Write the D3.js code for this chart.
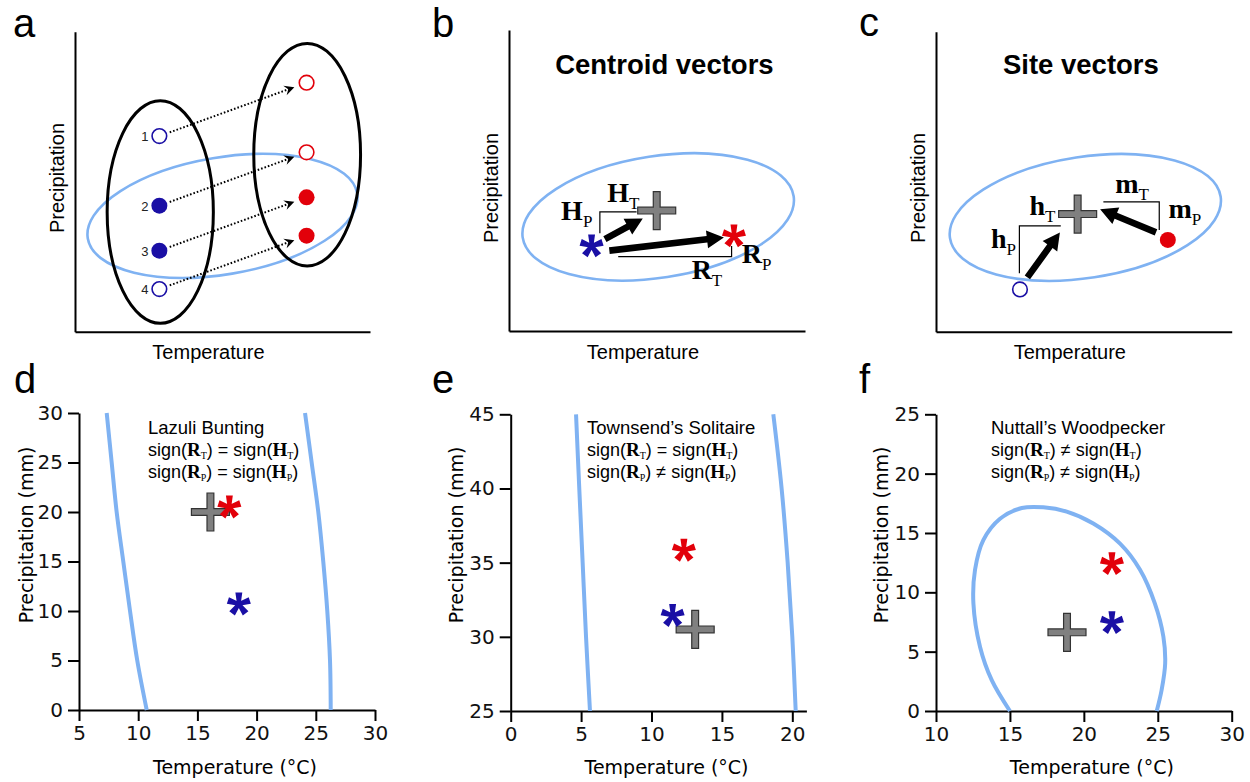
<!DOCTYPE html>
<html>
<head>
<meta charset="utf-8">
<title>Centroid and site vectors</title>
<script src="https://d3js.org/d3.v7.min.js"></script>
<style>
  body { margin: 0; background: #fff; }
</style>
</head>
<body>
<script>
// ---------- data (concept panels use arbitrary 0-100 units) ----------
// panel a: four sites, historical (blue) and modern (red)
const aSiteIds = ["1", "2", "3", "4"];
const aHistX = [28.6, 28.6, 28.6, 28.6];
const aHistY = [65.2, 42.0, 27.0, 14.2];
const aModX = [78.5, 78.5, 78.5, 78.5];
const aModY = [83.0, 59.8, 44.8, 32.0];
const aHistOccupied = [false, true, true, false];
const aModOccupied = [false, false, true, true];
// site groups [cx, cy, rx, ry]
const aHistGroup = [28.9, 39.9, 18.0, 37.1];
const aModGroup = [78.7, 59.0, 18.1, 37.1];
// climatic niche ellipses [cx, cy, rx, ry, tilt]
const aNiche = [50.0, 38.6, 46.3, 19.5, -9.5];
const bNiche = [50.4, 37.9, 46.3, 20.2, -8.7];
const cNiche = [50.5, 38.1, 46.3, 20.2, -8.7];

// panel b: centroid vectors
const bHist = [27.9, 28.6];
const bCentroid = [49.9, 40.0];
const bMod = [76.0, 31.9];
const bVectors = [[[32.4, 30.5], [45.2, 37.4]], [[33.9, 26.7], [72.6, 31.1]]];
const bBrackets = [[[30.7, 32.5], [30.7, 39.6], [43.1, 39.6]], [[36.9, 24.7], [75.2, 24.7], [75.2, 28.2]]];
const bLabels = [["H", "P", 17.6, 36.9], ["H", "T", 33.2, 43.0], ["R", "P", 78.6, 22.5], ["R", "T", 61.7, 17.2]];

// panel c: site vectors
const cHistSite = [28.4, 14.1];
const cCentroid = [47.9, 39.2];
const cModSite = [78.4, 30.6];
const cVectors = [[[30.9, 18.1], [41.9, 33.1]], [[74.4, 33.1], [55.5, 40.8]]];
const cBrackets = [[[28.2, 19.5], [28.2, 35.3], [42.2, 35.3]], [[56.6, 43.3], [75.5, 43.3], [75.5, 33.9]]];
const cLabels = [["h", "P", 18.6, 27.8], ["h", "T", 31.6, 38.9], ["m", "T", 60.6, 46.3], ["m", "P", 78.6, 37.8]];

// panel d: Lazuli Bunting  [temperature °C, precipitation mm]
const dLeftEdge = [[7.34, 30], [7.76, 25], [8.18, 20], [8.74, 15], [9.31, 10], [9.92, 5], [10.72, 0]];
const dRightEdge = [[24.09, 30], [24.65, 25], [25.21, 20], [25.63, 15], [25.97, 10], [26.2, 5], [26.26, 0]];
const dCentroid = [16.1, 20.0];
const dHist = [18.5, 10.8];
const dMod = [17.7, 20.6];
const dXTicks = [5, 10, 15, 20, 25, 30];
const dYTicks = [0, 5, 10, 15, 20, 25, 30];

// panel e: Townsend's Solitaire
const eLeftEdge = [[4.64, 45], [4.87, 40], [5.11, 35], [5.35, 30], [5.63, 25]];
const eRightEdge = [[18.65, 45], [19.24, 40], [19.67, 35], [20.0, 30], [20.24, 25]];
const eCentroid = [13.1, 30.5];
const eHist = [11.5, 31.5];
const eMod = [12.3, 35.9];
const eXTicks = [0, 5, 10, 15, 20];
const eYTicks = [25, 30, 35, 40, 45];

// panel f: Nuttall's Woodpecker
const fEdge = [[15.0, 0], [13.77, 2.6], [12.98, 5.4], [12.53, 9.07], [12.64, 11.9], [13.2, 14.4],
  [14.33, 16.2], [15.8, 17.1], [17.26, 17.16], [18.84, 16.8], [20.64, 15.8], [22.45, 14.1],
  [23.8, 11.9], [24.8, 9.07], [25.38, 6.26], [25.5, 4.0], [25.26, 1.77], [24.93, 0]];
const fCentroid = [18.86, 6.63];
const fHist = [21.9, 7.53];
const fMod = [21.9, 12.5];
const fXTicks = [10, 15, 20, 25, 30];
const fYTicks = [0, 5, 10, 15, 20, 25];

const species = ["Lazuli Bunting", "Townsend\u2019s Solitaire", "Nuttall\u2019s Woodpecker"];
const signT = ["=", "=", "\u2260"];
const signP = ["=", "\u2260", "\u2260"];

// ---------- styles ----------
const BLUE = "#1a0fa5", RED = "#e2000a", NICHE = "#7fb2f2", GREY = "#808080";
const SANS = "Liberation Sans, Arial, sans-serif";
const SERIF = "Liberation Serif, Times New Roman, serif";
const AXISFONT = "DejaVu Sans, sans-serif";

const svg = d3.select("body").append("svg")
  .attr("width", 1250)
  .attr("height", 782);

// custom symbols: 5-armed asterisk and a thin plus
const asterisk5 = {
  draw(ctx, size) {
    const r = Math.sqrt(size) / 2, w0 = r * 0.16, w1 = r * 0.3;
    for (let k = 0; k < 5; k++) {
      const a = -Math.PI / 2 + k * 2 * Math.PI / 5;
      const ux = Math.cos(a), uy = Math.sin(a), nx = -uy, ny = ux;
      ctx.moveTo(nx * w0, ny * w0);
      ctx.lineTo(ux * r + nx * w1, uy * r + ny * w1);
      ctx.lineTo(ux * r - nx * w1, uy * r - ny * w1);
      ctx.lineTo(-nx * w0, -ny * w0);
      ctx.closePath();
    }
  }
};
const plus = {
  draw(ctx, size) {
    const L = Math.sqrt(size) / 2, t = L * 0.18;
    ctx.moveTo(-t, -L); ctx.lineTo(t, -L); ctx.lineTo(t, -t); ctx.lineTo(L, -t);
    ctx.lineTo(L, t); ctx.lineTo(t, t); ctx.lineTo(t, L); ctx.lineTo(-t, L);
    ctx.lineTo(-t, t); ctx.lineTo(-L, t); ctx.lineTo(-L, -t); ctx.lineTo(-t, -t);
    ctx.closePath();
  }
};

function drawCross(x, y, p) {
  svg.append("path")
    .attr("transform", `translate(${x(p[0])},${y(p[1])})`)
    .attr("d", d3.symbol().type(plus).size(38 * 38)())
    .attr("fill", GREY).attr("stroke", "#333").attr("stroke-width", 1.2);
}
function drawStar(x, y, p, color) {
  svg.append("path")
    .attr("transform", `translate(${x(p[0])},${y(p[1]) + 1})`)
    .attr("d", d3.symbol().type(asterisk5).size(23 * 23)())
    .attr("fill", color);
}
function drawSite(x, y, p, color, filled) {
  svg.append("circle")
    .attr("cx", x(p[0])).attr("cy", y(p[1]))
    .attr("r", filled ? 8 : 7.3)
    .attr("fill", filled ? color : "#fff")
    .attr("stroke", color).attr("stroke-width", filled ? 0 : 1.6);
}

function panelLetter(txt, px, py) {
  svg.append("text").attr("x", px).attr("y", py).text(txt)
    .attr("font-family", SANS).attr("font-size", 40);
}

function ellipse(x, y, e, color, width) {
  const cx = x(e[0]), cy = y(e[1]);
  const rx = x(e[0] + e[2]) - cx, ry = cy - y(e[1] + e[3]);
  svg.append("ellipse")
    .attr("cx", cx).attr("cy", cy).attr("rx", rx).attr("ry", ry)
    .attr("transform", `rotate(${e[4] || 0},${cx},${cy})`)
    .attr("fill", "none").attr("stroke", color).attr("stroke-width", width);
}

function blockArrow(x, y, v) {
  const p0 = [x(v[0][0]), y(v[0][1])], p1 = [x(v[1][0]), y(v[1][1])];
  const dx = p1[0] - p0[0], dy = p1[1] - p0[1], L = Math.hypot(dx, dy);
  const ux = dx / L, uy = dy / L, nx = -uy, ny = ux;
  const hl = 17, hw = 9, sw = 3.3;
  const b = [p1[0] - ux * hl, p1[1] - uy * hl];
  const pts = [
    [p0[0] + nx * sw, p0[1] + ny * sw], [b[0] + nx * sw, b[1] + ny * sw],
    [b[0] + nx * hw, b[1] + ny * hw], p1,
    [b[0] - nx * hw, b[1] - ny * hw], [b[0] - nx * sw, b[1] - ny * sw],
    [p0[0] - nx * sw, p0[1] - ny * sw]
  ];
  svg.append("path").attr("d", d3.line()(pts) + "Z").attr("fill", "#000");
}

function bracket(x, y, pts) {
  svg.append("path")
    .attr("d", d3.line().x(d => x(d[0])).y(d => y(d[1]))(pts))
    .attr("fill", "none").attr("stroke", "#000").attr("stroke-width", 1.2);
}

function vecLabel(x, y, l) {
  const t = svg.append("text").attr("x", x(l[2])).attr("y", y(l[3]))
    .attr("font-family", SERIF);
  t.append("tspan").text(l[0]).attr("font-weight", "bold").attr("font-size", 28);
  t.append("tspan").text(l[1]).attr("font-size", 17).attr("dy", 7);
}

function conceptAxes(x, y, labelY) {
  const gy = svg.append("g").attr("transform", `translate(${x.range()[0]},0)`)
    .call(d3.axisLeft(y).tickValues([]).tickSizeOuter(0));
  const gx = svg.append("g").attr("transform", `translate(0,${y.range()[0]})`)
    .call(d3.axisBottom(x).tickValues([]).tickSizeOuter(0));
  [gx, gy].forEach(g => g.select(".domain").attr("stroke-width", 2));
  svg.append("text").attr("x", d3.mean(x.range()) - 14).attr("y", 359)
    .attr("text-anchor", "middle").attr("font-family", SANS).attr("font-size", 20)
    .text("Temperature");
  svg.append("text")
    .attr("transform", `translate(${x.range()[0] - 11},${labelY}) rotate(-90)`)
    .attr("text-anchor", "middle").attr("font-family", SANS).attr("font-size", 20)
    .text("Precipitation");
}

// ---------- panel a ----------
const xa = d3.scaleLinear().domain([0, 100]).range([75, 370]);
const ya = d3.scaleLinear().domain([0, 100]).range([331.7, 31.7]);
conceptAxes(xa, ya, 178);
panelLetter("a", 13, 37);
ellipse(xa, ya, aNiche, NICHE, 2.6);
ellipse(xa, ya, aHistGroup, "#000", 3);
ellipse(xa, ya, aModGroup, "#000", 3);

aSiteIds.forEach((id, i) => {
  const p0 = [xa(aHistX[i]), ya(aHistY[i])], p1 = [xa(aModX[i]), ya(aModY[i])];
  const dx = p1[0] - p0[0], dy = p1[1] - p0[1], L = Math.hypot(dx, dy);
  const ux = dx / L, uy = dy / L, nx = -uy, ny = ux;
  const s = [p0[0] + ux * 11, p0[1] + uy * 11];
  const e = [p1[0] - ux * 13, p1[1] - uy * 13];
  svg.append("line")
    .attr("x1", s[0]).attr("y1", s[1])
    .attr("x2", e[0] - ux * 6).attr("y2", e[1] - uy * 6)
    .attr("stroke", "#000").attr("stroke-width", 2).attr("stroke-dasharray", "1.6,2");
  const back = [e[0] - ux * 10, e[1] - uy * 10];
  const notch = [e[0] - ux * 6.5, e[1] - uy * 6.5];
  svg.append("path")
    .attr("d", d3.line()([e, [back[0] + nx * 5, back[1] + ny * 5], notch, [back[0] - nx * 5, back[1] - ny * 5]]) + "Z")
    .attr("fill", "#000");
  drawSite(xa, ya, [aHistX[i], aHistY[i]], BLUE, aHistOccupied[i]);
  drawSite(xa, ya, [aModX[i], aModY[i]], RED, aModOccupied[i]);
  svg.append("text").attr("x", xa(aHistX[i]) - 11).attr("y", ya(aHistY[i]) + 5)
    .attr("text-anchor", "end").attr("font-family", SANS).attr("font-size", 13)
    .attr("fill", "#222").text(id);
});

// ---------- panel b ----------
const xb = d3.scaleLinear().domain([0, 100]).range([509, 805]);
const yb = d3.scaleLinear().domain([0, 100]).range([331, 30]);
conceptAxes(xb, yb, 188);
panelLetter("b", 432, 37);
svg.append("text").attr("x", xb(52.5)).attr("y", 74).attr("text-anchor", "middle")
  .attr("font-family", SANS).attr("font-weight", "bold").attr("font-size", 27.5)
  .text("Centroid vectors");
ellipse(xb, yb, bNiche, NICHE, 2.6);
bBrackets.forEach(b => bracket(xb, yb, b));
bVectors.forEach(v => blockArrow(xb, yb, v));
drawCross(xb, yb, bCentroid);
drawStar(xb, yb, bHist, BLUE);
drawStar(xb, yb, bMod, RED);
bLabels.forEach(l => vecLabel(xb, yb, l));

// ---------- panel c ----------
const xc = d3.scaleLinear().domain([0, 100]).range([936, 1231.7]);
const yc = d3.scaleLinear().domain([0, 100]).range([331.7, 31.7]);
conceptAxes(xc, yc, 188);
panelLetter("c", 859, 36);
svg.append("text").attr("x", xc(49)).attr("y", 74).attr("text-anchor", "middle")
  .attr("font-family", SANS).attr("font-weight", "bold").attr("font-size", 27.5)
  .text("Site vectors");
ellipse(xc, yc, cNiche, NICHE, 2.6);
cBrackets.forEach(b => bracket(xc, yc, b));
cVectors.forEach(v => blockArrow(xc, yc, v));
drawCross(xc, yc, cCentroid);
drawSite(xc, yc, cHistSite, BLUE, false);
drawSite(xc, yc, cModSite, RED, true);
cLabels.forEach(l => vecLabel(xc, yc, l));

// ---------- panels d-f ----------
function dataPanel(opt) {
  const x = d3.scaleLinear().domain(opt.xDomain).range(opt.xRange);
  const y = d3.scaleLinear().domain(opt.yDomain).range(opt.yRange);
  const gx = svg.append("g").attr("transform", `translate(0,${opt.yRange[0]})`)
    .call(d3.axisBottom(x).tickValues(opt.xTicks).tickSize(11).tickPadding(5).tickSizeOuter(0));
  const gy = svg.append("g").attr("transform", `translate(${opt.xRange[0]},0)`)
    .call(d3.axisLeft(y).tickValues(opt.yTicks).tickSize(11).tickPadding(5).tickSizeOuter(0));
  [gx, gy].forEach(g => {
    g.attr("font-family", AXISFONT).attr("font-size", 20);
    g.select(".domain").attr("stroke-width", 2);
    g.selectAll(".tick line").attr("stroke-width", 2);
    g.selectAll(".tick text").attr("fill", "#111");
  });

  const line = d3.line().x(d => x(d[0])).y(d => y(d[1])).curve(d3.curveCatmullRom);
  opt.edges.forEach(e => svg.append("path").attr("d", line(e))
    .attr("fill", "none").attr("stroke", NICHE).attr("stroke-width", 4));

  drawCross(x, y, opt.centroid);
  drawStar(x, y, opt.hist, BLUE);
  drawStar(x, y, opt.mod, RED);

  svg.append("text").attr("x", d3.mean(opt.xRange) + 8).attr("y", 774)
    .attr("text-anchor", "middle").attr("font-family", AXISFONT).attr("font-size", 19)
    .text("Temperature (\u00b0C)");
  svg.append("text")
    .attr("transform", `translate(${opt.yLabelX},535) rotate(-90)`)
    .attr("text-anchor", "middle").attr("font-family", AXISFONT).attr("font-size", 19)
    .text("Precipitation (mm)");

  // species name and sign comparisons
  const i = opt.idx;
  svg.append("text").attr("x", opt.textX).attr("y", 434)
    .attr("font-family", SANS).attr("font-size", 18.5).text(species[i]);
  [["T", signT[i]], ["P", signP[i]]].forEach((s, k) => {
    const t = svg.append("text").attr("x", opt.textX).attr("y", 456 + k * 22)
      .attr("font-family", SANS).attr("font-size", 18);
    t.append("tspan").text("sign(");
    t.append("tspan").text("R").attr("font-family", SERIF).attr("font-weight", "bold").attr("font-size", 19);
    t.append("tspan").text(s[0]).attr("font-family", SERIF).attr("font-size", 10).attr("dy", 3);
    t.append("tspan").text(") " + s[1] + " sign(").attr("dy", -3);
    t.append("tspan").text("H").attr("font-family", SERIF).attr("font-weight", "bold").attr("font-size", 19);
    t.append("tspan").text(s[0]).attr("font-family", SERIF).attr("font-size", 10).attr("dy", 3);
    t.append("tspan").text(")").attr("dy", -3);
  });
}

panelLetter("d", 14, 393);
dataPanel({
  idx: 0, xDomain: [5, 30], xRange: [79, 375], yDomain: [0, 30], yRange: [710, 413],
  xTicks: dXTicks, yTicks: dYTicks, edges: [dLeftEdge, dRightEdge],
  centroid: dCentroid, hist: dHist, mod: dMod, yLabelX: 33, textX: 148
});

panelLetter("e", 432, 393);
dataPanel({
  idx: 1, xDomain: [0, 21], xRange: [510.7, 806.4], yDomain: [25, 45], yRange: [711, 414.3],
  xTicks: eXTicks, yTicks: eYTicks, edges: [eLeftEdge, eRightEdge],
  centroid: eCentroid, hist: eHist, mod: eMod, yLabelX: 463, textX: 587
});

panelLetter("f", 859, 393);
dataPanel({
  idx: 2, xDomain: [10, 30], xRange: [936, 1231.7], yDomain: [0, 25], yRange: [711, 414.3],
  xTicks: fXTicks, yTicks: fYTicks, edges: [fEdge],
  centroid: fCentroid, hist: fHist, mod: fMod, yLabelX: 888, textX: 991
});
</script>
</body>
</html>
